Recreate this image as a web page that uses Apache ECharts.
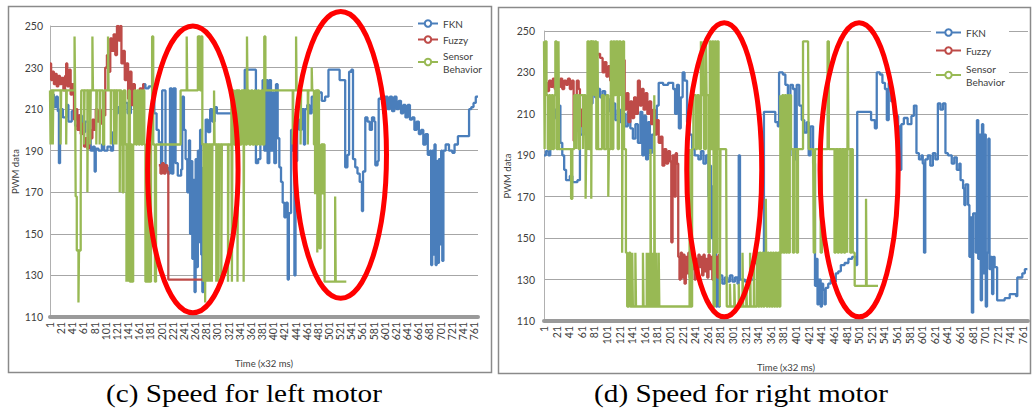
<!DOCTYPE html>
<html><head><meta charset="utf-8">
<script src="https://cdn.jsdelivr.net/npm/echarts@6.0.0/dist/echarts.min.js"></script>
<style>html,body{margin:0;padding:0;background:#fff}#c{width:1032px;height:411px}</style>
</head><body><div id="c"></div>
<script>
const seriesNames = ['FKN', 'Fuzzy', 'Sensor\nBehavior'];
const captions = ['(c) Speed for left motor', '(d) Speed for right motor'];
const yTitle = 'PWM data';
const xTitle = 'Time (x32 ms)';

// [time index, PWM] change points
const fknLeft = [[1,210],[3,217],[8,211],[12,216],[15,209],[17,184],[19,210],[24,206],[30,212],[34,204],[40,209],[46,202],[52,207],[58,199],[64,204],[70,197],[74,190],[78,192],[81,180],[83,191],[88,190],[94,193],[98,190],[104,192],[110,190],[114,199],[118,208],[123,211],[128,207],[134,213],[140,208],[146,215],[152,210],[158,217],[164,212],[168,222],[172,220],[178,221],[184,215],[188,208],[192,200],[196,194],[200,183],[202,219],[206,219],[208,182],[212,179],[216,220],[219,179],[222,220],[226,184],[230,178],[236,181],[238,216],[241,200],[244,186],[247,170],[250,195],[252,150],[254,185],[256,138],[258,176],[260,122],[262,186],[264,134],[266,190],[268,146],[270,200],[272,140],[274,122],[276,182],[278,160],[280,205],[284,199],[288,210],[292,204],[296,211],[300,208],[324,208],[328,214],[334,216],[340,212],[346,216],[350,229],[368,229],[370,184],[374,186],[378,216],[382,224],[385,190],[388,224],[391,184],[394,224],[397,190],[400,218],[403,184],[406,222],[409,196],[412,182],[415,175],[418,165],[421,158],[424,165],[427,128],[429,160],[433,200],[436,190],[439,130],[441,185],[444,205],[448,200],[452,210],[456,193],[458,210],[462,212],[466,208],[470,216],[476,212],[482,218],[488,214],[494,216],[500,229],[516,229],[520,224],[528,224],[530,182],[534,188],[537,228],[541,229],[544,186],[548,182],[552,179],[556,175],[560,161],[562,180],[566,206],[570,204],[574,200],[578,206],[582,204],[584,183],[588,185],[590,215],[594,216],[598,208],[602,216],[606,210],[610,216],[614,209],[618,216],[622,210],[626,214],[630,208],[634,212],[638,206],[642,212],[646,205],[650,206],[654,200],[658,204],[662,198],[666,200],[670,193],[674,198],[678,188],[682,190],[684,135],[686,190],[688,140],[690,193],[692,135],[694,185],[696,136],[698,186],[700,145],[702,190],[704,137],[706,190],[710,193],[716,190],[722,189],[726,193],[732,197],[750,197],[752,210],[756,211],[760,213],[764,216],[768,216]];

const fuzzyLeft = [[1,232],[3,224],[5,228],[8,222],[10,227],[13,221],[16,226],[19,222],[22,225],[25,219],[28,226],[30,232],[32,221],[35,229],[38,217],[41,222],[44,205],[47,210],[50,200],[53,207],[56,198],[59,203],[62,192],[65,196],[68,191],[71,200],[74,196],[77,205],[80,200],[83,210],[86,204],[89,209],[92,203],[95,210],[98,207],[100,230],[103,236],[106,228],[109,244],[112,238],[115,246],[118,236],[121,250],[124,243],[127,250],[129,232],[132,238],[135,224],[138,232],[141,215],[144,228],[147,212],[150,222],[153,210],[156,218],[159,208],[162,220],[165,214],[168,222],[170,null],[196,183],[199,179],[202,184],[205,179],[208,183],[211,180],[213,128],[276,128]];

const sensorLeft = [[1,219],[2,193],[3,219],[6,193],[7,219],[20,193],[21,219],[30,193],[31,219],[45,245],[46,219],[47,168],[49,142],[52,117],[53,142],[56,168],[57,219],[62,193],[63,219],[68,170],[69,219],[73,193],[74,219],[77,245],[78,219],[84,193],[85,219],[90,193],[91,219],[96,193],[98,219],[105,245],[106,219],[110,193],[111,219],[116,193],[117,219],[120,193],[121,219],[126,170],[127,219],[129,193],[131,170],[133,219],[136,193],[138,127],[139,193],[141,127],[142,219],[144,127],[146,193],[148,127],[150,193],[152,219],[155,193],[157,219],[160,193],[162,219],[165,193],[167,219],[170,193],[172,127],[174,193],[176,127],[178,193],[180,127],[182,193],[184,245],[186,193],[189,127],[191,193],[235,219],[246,245],[247,219],[266,245],[270,219],[272,245],[274,193],[276,127],[277,193],[279,117],[280,193],[283,127],[284,193],[287,127],[288,193],[291,127],[292,193],[295,219],[296,193],[299,127],[300,193],[303,127],[304,193],[308,127],[309,193],[320,127],[321,193],[326,219],[327,127],[328,219],[331,193],[334,219],[337,127],[338,219],[341,193],[344,219],[348,127],[349,219],[352,193],[354,245],[355,219],[358,193],[361,219],[364,193],[367,219],[370,193],[373,219],[376,193],[379,219],[382,193],[385,245],[387,219],[436,193],[437,219],[442,245],[443,219],[450,193],[451,219],[463,193],[464,219],[470,230],[471,219],[474,193],[476,169],[477,219],[480,141],[481,219],[483,193],[484,143],[486,169],[487,193],[489,169],[490,193],[493,127],[512,168],[513,127],[532,127]];

const fknRight = [[1,190],[4,192],[8,190],[11,214],[14,207],[17,212],[20,208],[24,214],[27,196],[30,190],[33,183],[36,178],[42,180],[46,177],[54,178],[58,200],[62,204],[66,200],[70,207],[74,215],[78,220],[82,218],[86,222],[90,218],[94,221],[98,219],[102,217],[106,211],[110,215],[114,207],[118,212],[122,206],[126,210],[130,204],[134,211],[138,203],[142,198],[146,205],[150,196],[154,211],[157,190],[160,209],[163,188],[166,206],[169,191],[172,200],[176,205],[180,214],[183,225],[190,224],[198,225],[206,222],[209,210],[212,224],[215,203],[218,218],[221,230],[224,226],[228,206],[232,200],[236,193],[240,190],[246,188],[250,192],[254,186],[258,190],[262,170],[264,185],[266,150],[268,175],[270,130],[272,160],[274,117],[276,140],[278,117],[280,132],[284,128],[288,131],[292,129],[296,132],[300,129],[304,131],[308,128],[310,190],[312,130],[320,129],[328,130],[334,138],[338,141],[344,140],[348,127],[350,211],[356,211],[362,211],[368,206],[372,204],[374,230],[380,229],[384,224],[388,190],[392,224],[396,222],[399,188],[402,224],[406,214],[410,207],[414,201],[418,206],[421,190],[424,204],[428,186],[431,127],[433,140],[435,118],[437,130],[440,117],[442,128],[444,125],[446,118],[448,126],[452,128],[456,130],[460,129],[464,133],[468,134],[472,137],[478,138],[484,140],[490,141],[496,137],[498,211],[510,211],[520,207],[526,203],[529,230],[534,229],[538,225],[542,222],[545,207],[548,225],[552,216],[556,210],[560,209],[563,204],[566,183],[568,205],[572,208],[578,205],[584,209],[588,214],[592,191],[596,188],[600,190],[602,186],[604,143],[606,188],[610,190],[614,185],[618,191],[622,188],[626,215],[630,212],[634,215],[638,191],[642,190],[648,186],[652,189],[656,183],[660,186],[662,178],[666,174],[668,166],[670,176],[674,166],[676,141],[678,160],[680,114],[682,162],[686,143],[688,207],[690,140],[692,200],[694,120],[696,205],[698,133],[700,200],[702,117],[704,143],[706,198],[708,135],[710,141],[712,123],[714,141],[716,136],[720,120],[726,120],[732,121],[740,123],[746,123],[750,122],[752,131],[756,131],[760,133],[764,135],[768,135]];

const fuzzyRight = [[1,220],[3,225],[6,221],[9,226],[12,223],[15,227],[18,222],[21,226],[24,223],[27,227],[30,222],[33,226],[36,224],[39,227],[42,222],[45,226],[48,197],[51,206],[53,226],[56,222],[58,212],[61,204],[64,211],[67,200],[70,207],[73,215],[76,232],[79,239],[82,238],[86,239],[90,237],[94,230],[97,235],[100,228],[103,233],[106,226],[109,234],[112,228],[115,236],[118,242],[121,238],[124,243],[127,236],[129,212],[132,220],[135,206],[138,216],[141,208],[144,218],[147,210],[150,226],[153,214],[156,222],[159,212],[162,220],[165,210],[168,216],[171,205],[174,212],[177,200],[180,207],[183,196],[186,199],[189,185],[192,193],[195,186],[198,192],[201,187],[203,148],[205,190],[208,170],[210,191],[212,186],[214,141],[216,130],[218,143],[220,131],[222,142],[224,128],[226,141],[228,133],[230,143],[232,131],[234,141],[236,135],[238,142],[240,130],[242,140],[244,133],[246,142],[248,136],[250,141],[252,132],[254,142],[256,134],[258,140],[260,131],[262,142],[264,135],[266,141],[268,130],[270,142],[272,133],[274,141],[276,131],[278,142],[280,136]];

const sensorRight = [[1,245],[2,193],[3,245],[5,219],[7,193],[9,219],[11,193],[13,219],[15,193],[17,219],[19,245],[21,193],[24,245],[25,193],[44,169],[46,193],[49,219],[52,193],[53,219],[56,193],[58,219],[63,193],[64,219],[67,169],[68,193],[70,245],[72,193],[74,245],[76,169],[77,245],[80,219],[82,245],[84,193],[86,245],[87,193],[93,219],[96,193],[100,219],[103,170],[104,193],[107,245],[109,193],[111,245],[113,219],[115,245],[118,193],[120,245],[123,219],[125,143],[126,245],[128,193],[131,143],[133,117],[136,143],[138,117],[141,143],[142,117],[146,143],[147,117],[152,117],[158,143],[159,117],[164,143],[165,117],[167,143],[168,117],[170,193],[171,117],[173,143],[174,117],[176,219],[177,117],[179,143],[180,117],[183,143],[184,117],[230,117],[232,193],[233,117],[236,193],[238,219],[242,193],[244,219],[247,193],[250,245],[251,219],[254,245],[255,193],[258,245],[259,219],[262,143],[264,245],[266,193],[268,245],[270,117],[272,245],[274,143],[276,245],[278,193],[280,117],[281,193],[290,193],[291,117],[296,128],[297,117],[303,128],[304,117],[310,128],[311,117],[316,143],[317,117],[322,128],[323,117],[328,143],[329,117],[334,143],[335,117],[339,143],[341,117],[343,143],[345,117],[347,143],[349,117],[351,143],[353,169],[354,117],[356,143],[358,117],[360,143],[362,117],[364,143],[366,117],[368,143],[370,117],[372,143],[374,117],[376,219],[377,143],[379,219],[381,143],[383,219],[385,143],[387,219],[389,143],[391,219],[393,193],[396,143],[398,193],[402,143],[404,193],[409,193],[412,245],[420,245],[421,193],[428,193],[429,143],[431,193],[438,193],[440,143],[442,193],[449,193],[451,245],[453,193],[460,193],[462,143],[464,193],[467,143],[469,193],[472,143],[474,193],[477,143],[479,193],[482,143],[483,245],[484,193],[487,143],[489,193],[491,143],[494,127],[512,169],[513,127],[531,127]];

// highlight ellipses in data space: [grid, centre time, centre PWM, half-width (time), half-height (PWM)]
const ellipses = [[0,257,181,81,69],[0,522,188,82,69],[1,287,183,59.5,71],[1,501,183,62,71]];

const colors = ['#4a7ebb', '#be4b48', '#98b954'];
const FONT = 'Lato, "Liberation Sans", sans-serif';
const SERIF = '"Liberation Serif", "Times New Roman", serif';
const TXT = '#404040';

const chart = echarts.init(document.getElementById('c'), null, {renderer: 'svg'});

function xAxis(gi, max) {
  return {
    type: 'value', gridIndex: gi, min: 1, max: max, interval: 20,
    axisLine: {show: true, onZero: false, lineStyle: {color: '#9a9a9a', width: 4}},
    axisTick: {show: false}, splitLine: {show: false},
    axisLabel: {rotate: 90, fontSize: 10.5, color: TXT, fontFamily: FONT, margin: 5, showMaxLabel: false,
      formatter: v => ((v - 1) % 20 === 0 ? String(v) : '')},
    name: xTitle, nameLocation: 'middle', nameGap: 41,
    nameTextStyle: {fontSize: 9.5, color: TXT, fontFamily: FONT}
  };
}
function yAxis(gi, margin, gap) {
  return {
    type: 'value', gridIndex: gi, min: 110, max: 250, interval: 20,
    axisLine: {show: true, lineStyle: {color: '#b0b0b0', width: 1}},
    axisTick: {show: false},
    splitLine: {show: true, lineStyle: {color: '#a6a6a6', width: 1}},
    axisLabel: {fontSize: 10.5, color: TXT, fontFamily: FONT, margin: margin},
    name: yTitle, nameLocation: 'middle', nameGap: gap,
    nameTextStyle: {fontSize: 9.5, color: TXT, fontFamily: FONT}
  };
}
function line(name, data, gi, ci) {
  return {
    type: 'line', name: name, xAxisIndex: gi, yAxisIndex: gi, data: data,
    step: 'end', symbol: 'emptyCircle', symbolSize: 5, showSymbol: false,
    connectNulls: false, sampling: null,
    lineStyle: {color: colors[ci], width: 2.3}, itemStyle: {color: colors[ci]},
    emphasis: {disabled: true}, silent: true
  };
}
function legend(left, top, w, gap) {
  return {
    orient: 'vertical', left: left, top: top, data: seriesNames, selectedMode: false,
    itemWidth: w, itemHeight: 8, itemGap: gap, padding: [3, 4],
    backgroundColor: '#fff',
    textStyle: {fontSize: 10, color: TXT, fontFamily: FONT, lineHeight: 13}
  };
}
function caption(text, cx) {
  return {type: 'text', z: 10, silent: true, x: cx, y: 394, scaleX: 1.17, scaleY: 1,
    style: {text: text, x: 0, y: 0, textAlign: 'center', textVerticalAlign: 'middle', align: 'center', verticalAlign: 'middle',
      fontSize: 25, fontFamily: SERIF, fill: '#000'}};
}

const option = {
  animation: false,
  backgroundColor: '#fff',
  textStyle: {fontFamily: FONT},
  grid: [
    {left: 50, right: 554, top: 26, bottom: 94, containLabel: false, outerBoundsMode: 'none'},
    {left: 544, right: 4, top: 31, bottom: 90, containLabel: false, outerBoundsMode: 'none'}
  ],
  xAxis: [xAxis(0, 768), xAxis(1, 769)],
  yAxis: [yAxis(0, 7, 28), yAxis(1, 9, 32)],
  legend: [legend(413, 14, 20, 3), legend(931, 23, 25, 5)],
  series: [
    line(seriesNames[0], fknLeft, 0, 0), line(seriesNames[1], fuzzyLeft, 0, 1), line(seriesNames[2], sensorLeft, 0, 2),
    line(seriesNames[0], fknRight, 1, 0), line(seriesNames[1], fuzzyRight, 1, 1), line(seriesNames[2], sensorRight, 1, 2)
  ]
};
chart.setOption(option);

const g = [
  {type: 'rect', z: 0, silent: true, shape: {x: 8.5, y: 6.5, width: 483, height: 366}, style: {fill: 'none', stroke: '#8a8a8a', lineWidth: 1.5}},
  {type: 'rect', z: 0, silent: true, shape: {x: 498.5, y: 7.5, width: 532, height: 366}, style: {fill: 'none', stroke: '#8a8a8a', lineWidth: 1.5}},
  caption(captions[0], 244),
  caption(captions[1], 741)
];
ellipses.forEach(e => {
  const c = chart.convertToPixel({gridIndex: e[0]}, [e[1], e[2]]);
  const px = chart.convertToPixel({gridIndex: e[0]}, [e[1] + e[3], e[2] + e[4]]);
  g.push({type: 'ellipse', z: 100, silent: true,
    shape: {cx: c[0], cy: c[1], rx: Math.abs(px[0] - c[0]), ry: Math.abs(px[1] - c[1])},
    style: {fill: 'none', stroke: '#ff0000', lineWidth: 5}});
});
chart.setOption({graphic: g});
</script>
</body></html>
